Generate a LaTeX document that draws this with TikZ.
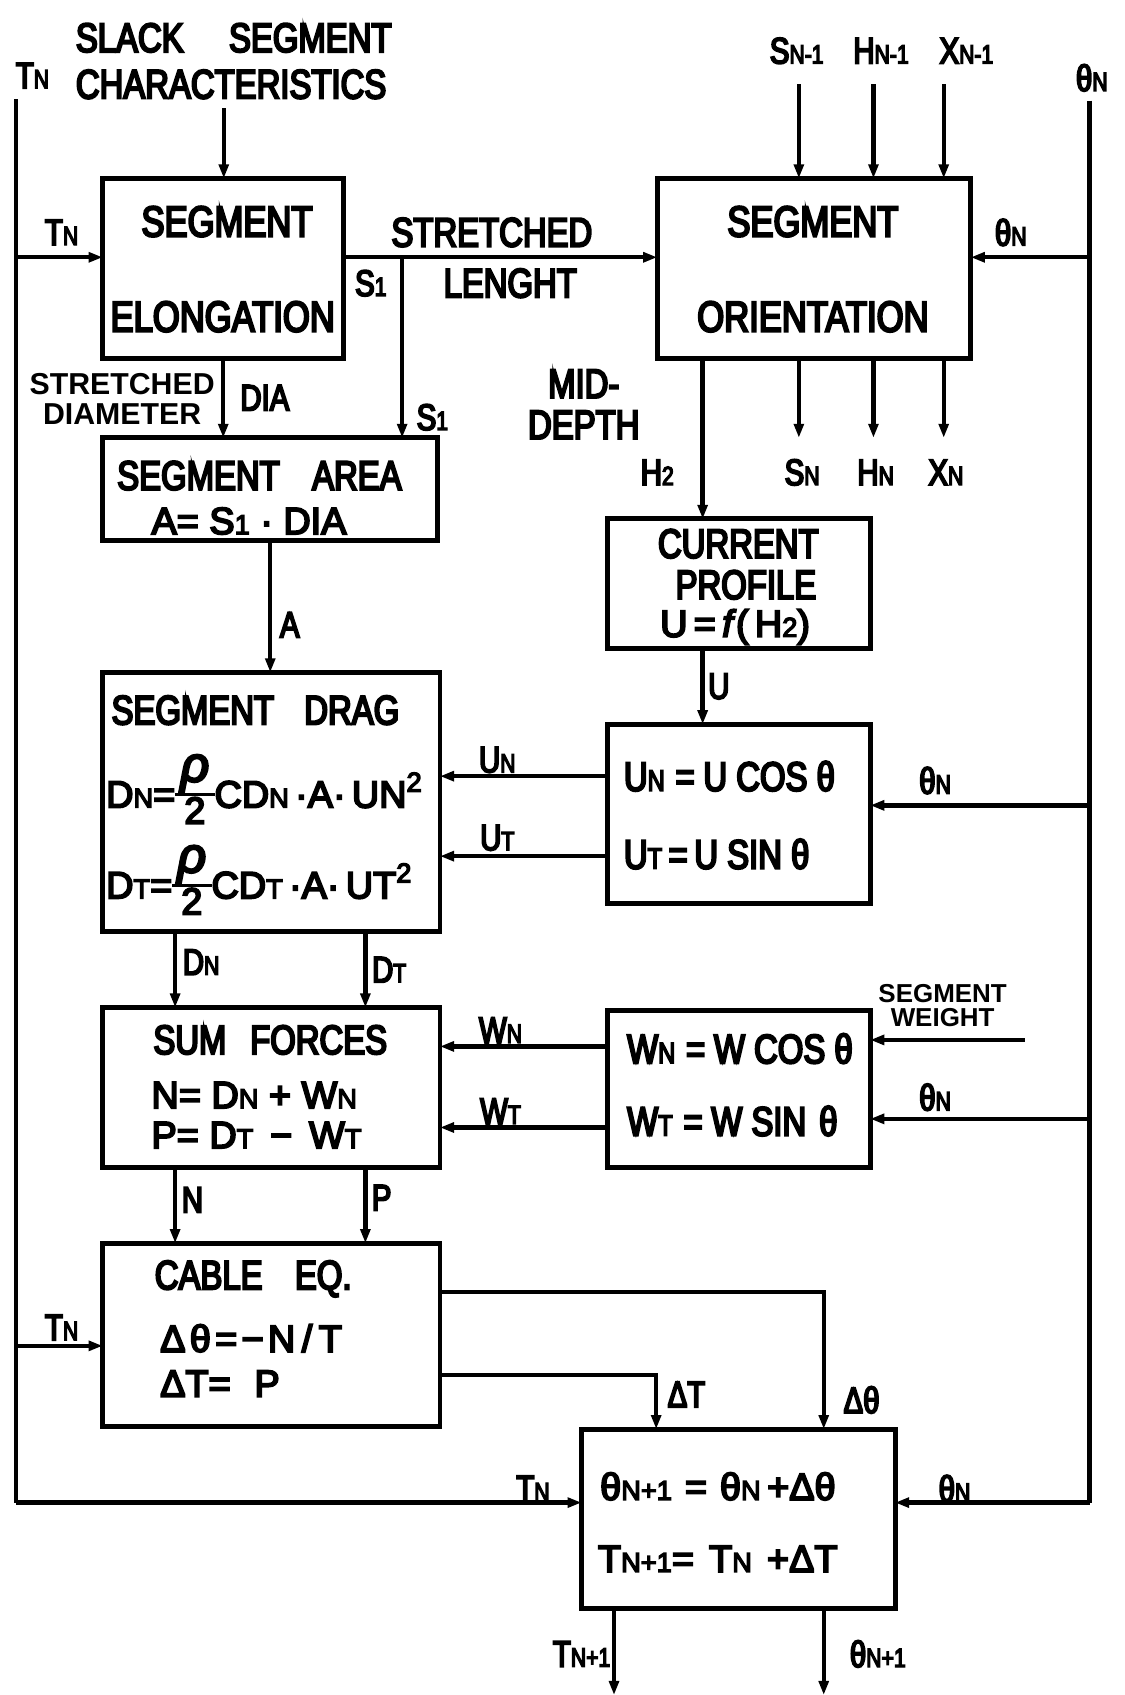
\documentclass[tikz,border=0pt]{standalone}
\usepackage{fontspec}
\setmainfont{Liberation Sans}[FakeStretch=0.8,FakeBold=5]
\newfontfamily\wideff{Liberation Sans}[FakeBold=5]
\newfontfamily\lblff{Liberation Sans Bold}
\usetikzlibrary{arrows.meta,fit}
\makeatletter
\newcommand\lsub[1]{{\fontsize{\fpeval{0.72*\f@size}}{\f@baselineskip}\selectfont #1}}
\makeatother
\newcommand\myfr[2]{\raisebox{-15pt}{\renewcommand\arraystretch{0.9}\setlength\arrayrulewidth{3pt}\begin{tabular}[b]{@{\hspace{5pt}}c@{\hspace{5pt}}}{\fontsize{46}{46}\selectfont\itshape #1}\\\hline #2\end{tabular}}}
\newcommand\supr[1]{\raisebox{0.42em}{\lsub{#1}}}
\begin{document}
\begin{tikzpicture}[x=1pt,y=-1pt,
 blk/.style={draw,line width=4.5pt,inner sep=0pt,outer sep=0pt},
 ln/.style={line width=4pt},
 arr/.style={line width=4pt,-{Triangle[length=13pt,width=9pt]}},
 tbig/.style={font=\fontsize{40}{46}\selectfont,inner sep=0pt},
 tmid/.style={font=\fontsize{38}{44}\selectfont,inner sep=0pt},
 tfrm/.style={font=\wideff\fontsize{35}{40}\selectfont,inner sep=0pt},
 tlab/.style={font=\fontsize{34}{38}\selectfont,inner sep=0pt},
 tsml/.style={font=\lblff\fontsize{28}{28}\selectfont,inner sep=0pt,align=center},
 ttny/.style={font=\lblff\fontsize{24}{22}\selectfont,inner sep=0pt,align=center}]
\useasboundingbox (0,0) rectangle (1040,1568);

% boxes
\node[blk,fit={(95,165)(318,332)}] (elong) {};
\node[blk,fit={(608,165)(898,332)}] (orient) {};
\node[blk,fit={(95,405)(405,500)}] (area) {};
\node[blk,fit={(562,480)(805,600)}] (prof) {};
\node[blk,fit={(95,622)(407,862)}] (drag) {};
\node[blk,fit={(562,670)(805,836)}] (ucos) {};
\node[blk,fit={(95,932)(407,1080)}] (sumf) {};
\node[blk,fit={(562,935)(805,1080)}] (wcos) {};
\node[blk,fit={(95,1150)(407,1320)}] (cable) {};
\node[blk,fit={(538,1322)(828,1488)}] (fin) {};

% coordinates
\coordinate (tltop) at (15,92);
\coordinate (trtop) at (1008,93);
\coordinate (charB) at (207,100);
\coordinate (sl) at (372,238);
\coordinate (segw) at (948,962);
\coordinate (tout) at (568,1568);
\coordinate (thout) at (762,1568);

% connectors
\draw[ln] (tltop) -- (15,1390) coordinate (tlbot);
\draw[arr] (tlbot) -- (fin.west |- tlbot);
\draw[arr] (15,238) -- (elong.west |- 0,238);
\draw[arr] (15,1245) -- (cable.west |- 0,1245);
\draw[ln] (trtop) -- (1008,1390) coordinate (trbot);
\draw[arr] (trbot) -- (fin.east |- trbot);
\draw[arr] (1008,238) -- (orient.east |- 0,238);
\draw[arr] (1008,745) -- (ucos.east |- 0,745);
\draw[arr] (1008,1035) -- (wcos.east |- 0,1035);
\draw[arr] (segw) -- (wcos.east |- segw);
\draw[arr] (charB) -- (charB |- elong.north);
\draw[arr] (elong.east |- 0,238) -- (orient.west |- 0,238);
\draw[arr] (sl) -- (sl |- area.north);
\draw[arr] (elong.south) -- (elong.south |- area.north);
\draw[arr] (area.south -| 250,0) -- (drag.north -| 250,0);
\draw[arr] (ucos.west |- 0,718) -- (drag.east |- 0,718);
\draw[arr] (ucos.west |- 0,792) -- (drag.east |- 0,792);
\draw[arr] (drag.south -| 162,0) -- (sumf.north -| 162,0);
\draw[arr] (drag.south -| 338,0) -- (sumf.north -| 338,0);
\draw[arr] (wcos.west |- 0,968) -- (sumf.east |- 0,968);
\draw[arr] (wcos.west |- 0,1043) -- (sumf.east |- 0,1043);
\draw[arr] (sumf.south -| 162,0) -- (cable.north -| 162,0);
\draw[arr] (sumf.south -| 338,0) -- (cable.north -| 338,0);
\draw[arr] (cable.east |- 0,1195) -- (762,1195) -- (fin.north -| 762,0);
\draw[arr] (cable.east |- 0,1272) -- (607,1272) -- (fin.north -| 607,0);
\foreach \x in {739,808,873} {
  \draw[arr] (\x,78) -- (orient.north -| \x,0);
  \draw[arr] (orient.south -| \x,0) -- (\x,405);
}
\draw[arr] (orient.south -| 650,0) -- (prof.north -| 650,0);
\draw[arr] (prof.south -| 650,0) -- (ucos.north -| 650,0);
\draw[arr] (fin.south -| 568,0) -- (tout);
\draw[arr] (fin.south -| 762,0) -- (thout);

% texts left column
\node[tlab] (lTa) at (30,70) {T\lsub{N}};
\node[tmid,anchor=west] (lSl) at (70,35) {SLACK\hspace{42pt}SEGMENT};
\node[tmid,anchor=west] (lCh) at (70,78) {CHARACTERISTICS};
\node[tbig] (elA) at (210,205) {SEGMENT};
\node[tbig] (elB) at (206,293) {ELONGATION};
\node[tlab] (lTb) at (57,215) {T\lsub{N}};
\node[tmid] (lSt) at (455,215) {STRETCHED};
\node[tmid] (lLe) at (472,262) {LENGHT};
\node[tlab] (lS1a) at (343,262) {S\lsub{1}};
\node[tlab] (lS1b) at (400,386) {S\lsub{1}};
\node[tsml] (lSD) at (113,369) {STRETCHED\\DIAMETER};
\node[tlab] (lDia) at (245,368) {DIA};
\node[tmid] (arA) at (240,440) {SEGMENT\hspace{30pt}AREA};
\node[tfrm,anchor=west] (arB) at (140,482) {A= S\lsub{1} · DIA};
\node[tlab] (lA) at (268,578) {A};
\node[tmid,anchor=west] (drA) at (103,657) {SEGMENT\hspace{28pt}DRAG};
\node[tfrm,anchor=base west] (drB) at (98,747) {D\lsub{N}=\myfr{ρ}{2}CD\lsub{N}\,·A·\,UN\supr{2}};
\node[tfrm,anchor=base west] (drC) at (98,831) {D\lsub{T}=\myfr{ρ}{2}CD\lsub{T}\,·A·\,UT\supr{2}};
\node[tlab] (lUN) at (460,703) {U\lsub{N}};
\node[tlab] (lUT) at (460,775) {U\lsub{T}};
\node[tlab] (lDN) at (186,890) {D\lsub{N}};
\node[tlab] (lDT) at (360,897) {D\lsub{T}};
\node[tmid] (sfA) at (250,962) {SUM\hspace{22pt}FORCES};
\node[tfrm,anchor=west] (sfB) at (140,1013) {N= D\lsub{N} + W\lsub{N}};
\node[tfrm,anchor=west] (sfC) at (140,1050) {P= D\lsub{T} \,−\, W\lsub{T}};
\node[tlab] (lWN) at (463,953) {W\lsub{N}};
\node[tlab] (lWT) at (463,1028) {W\lsub{T}};
\node[tlab] (lN) at (178,1110) {N};
\node[tlab] (lP) at (353,1108) {P};
\node[tmid,anchor=west] (caA) at (143,1183) {CABLE\hspace{30pt}EQ.};
\node[tfrm,anchor=west] (caB) at (148,1238) {Δ\hspace{4pt}θ\hspace{4pt}=\hspace{4pt}−\hspace{4pt}N\hspace{6pt}/\hspace{6pt}T};
\node[tfrm,anchor=west] (caC) at (148,1280) {ΔT=\hspace{22pt}P};
\node[tlab] (lTc) at (57,1228) {T\lsub{N}};
\node[tlab] (lDT2) at (635,1290) {ΔT};
\node[tlab] (lDth) at (797,1295) {Δθ};
\node[tlab] (lTd) at (493,1377) {T\lsub{N}};
\node[tlab] (lThd) at (883,1377) {θ\lsub{N}};
\node[tfrm,anchor=west] (fiA) at (555,1375) {θ\lsub{N+1}\hspace{12pt}=\hspace{12pt}θ\lsub{N}\hspace{6pt}+Δθ};
\node[tfrm,anchor=west] (fiB) at (553,1442) {T\lsub{N+1}=\hspace{14pt}T\lsub{N}\hspace{14pt}+ΔT};
\node[tlab] (lTo) at (538,1530) {T\lsub{N+1}};
\node[tlab] (lTho) at (812,1530) {θ\lsub{N+1}};

% texts right column
\node[tlab] (lThTop) at (1010,72) {θ\lsub{N}};
\node[tlab] (lTh1) at (935,215) {θ\lsub{N}};
\node[tbig] (orA) at (752,205) {SEGMENT};
\node[tbig] (orB) at (752,293) {ORIENTATION};
\node[tlab] (iS) at (737,47) {S\lsub{N-1}};
\node[tlab] (iH) at (815,47) {H\lsub{N-1}};
\node[tlab] (iX) at (894,47) {X\lsub{N-1}};
\node[tlab] (oS) at (742,437) {S\lsub{N}};
\node[tlab] (oH) at (810,437) {H\lsub{N}};
\node[tlab] (oX) at (875,437) {X\lsub{N}};
\node[tmid] (lMid) at (540,355) {MID-};
\node[tmid] (lDep) at (540,393) {DEPTH};
\node[tlab] (lH2) at (608,437) {H\lsub{2}};
\node[tmid] (prA) at (683,503) {CURRENT};
\node[tmid] (prB) at (690,541) {PROFILE};
\node[tfrm] (prC) at (680,580) {U\,=\,\textit{f}(\,H\lsub{2})};
\node[tlab] (lU) at (665,635) {U};
\node[tmid,anchor=west] (ucA) at (577,718) {U\lsub{N}\hspace{10pt}=\hspace{8pt}U COS θ};
\node[tmid,anchor=west] (ucB) at (577,790) {U\lsub{T}\hspace{6pt}=\hspace{6pt}U SIN θ};
\node[tlab] (lTh2) at (865,722) {θ\lsub{N}};
\node[tmid,anchor=west] (wcA) at (580,970) {W\lsub{N}\hspace{10pt}=\hspace{8pt}W COS θ};
\node[tmid,anchor=west] (wcB) at (580,1037) {W\lsub{T}\hspace{10pt}=\hspace{8pt}W SIN\hspace{12pt}θ};
\node[ttny] (lSW) at (872,930) {SEGMENT\\WEIGHT};
\node[tlab] (lTh3) at (865,1015) {θ\lsub{N}};
\end{tikzpicture}
\end{document}
